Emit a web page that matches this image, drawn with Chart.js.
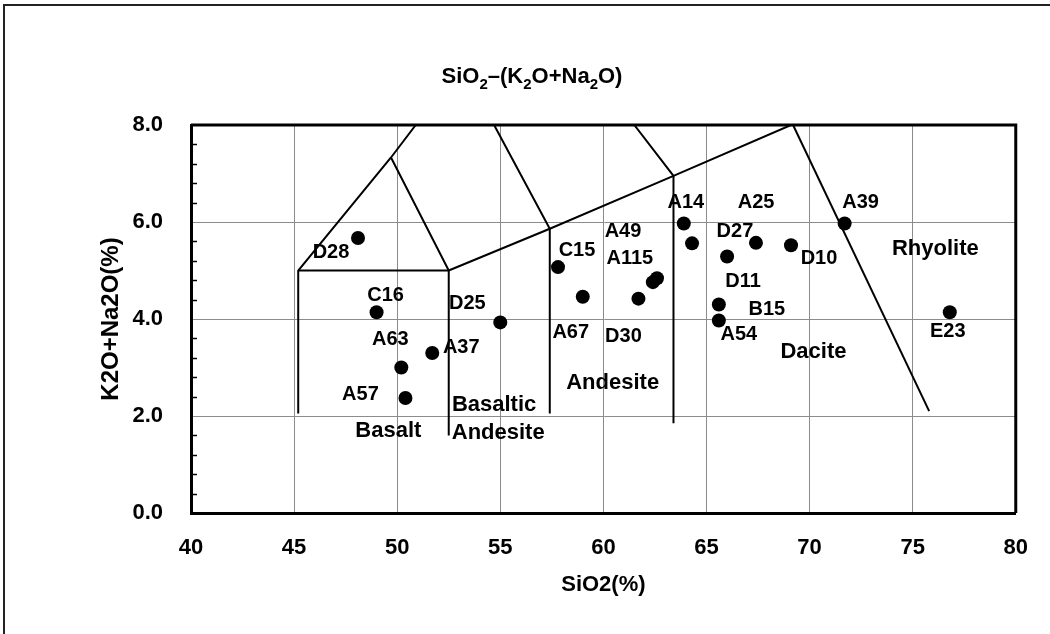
<!DOCTYPE html>
<html>
<head>
<meta charset="utf-8">
<script src="https://cdn.jsdelivr.net/npm/chart.js@4.4.1/dist/chart.umd.min.js"></script>
<style>
  html, body { margin: 0; padding: 0; background: #fff; }
  canvas { display: block; }
</style>
</head>
<body>
<canvas id="tas" width="1050" height="634"></canvas>
<script>
// samples: SiO2 vs total alkali
const sampleNames = ["D28", "C16", "A63", "A37", "A57", "D25", "C15", "A67", "D30", "A115",
                     "A49", "A14", "A25", "D27", "D11", "D10", "A39", "B15", "A54", "E23"];
const sio2 = [48.1, 49.0, 50.2, 51.7, 50.4, 55.0, 57.8, 59.0, 61.7, 62.4,
              62.6, 63.9, 64.3, 67.4, 66.0, 69.1, 71.7, 65.6, 65.6, 76.8];
const alkali = [5.67, 4.14, 3.0, 3.3, 2.37, 3.93, 5.07, 4.46, 4.42, 4.76,
                4.84, 5.97, 5.56, 5.57, 5.29, 5.52, 5.97, 4.30, 3.97, 4.14];

// field boundaries (TAS), one polyline each
const bndBasaltX = [45.2, 45.2, 49.7, 50.9];
const bndBasaltY = [2.05, 5.0, 7.33, 8.0];
const bndBasaltTopX = [45.2, 52.5];
const bndBasaltTopY = [5.0, 5.0];
const bndBasAndX = [49.7, 52.5, 52.5];
const bndBasAndY = [7.33, 5.0, 1.6];
const bndUpperX = [52.5, 57.4, 63.4, 69.1];
const bndUpperY = [5.0, 5.86, 6.95, 8.0];
const bndAndesiteX = [54.7, 57.4, 57.4];
const bndAndesiteY = [8.0, 5.86, 2.05];
const bndDaciteX = [61.5, 63.4, 63.4];
const bndDaciteY = [8.0, 6.95, 1.85];
const bndRhyoliteX = [69.2, 75.8];
const bndRhyoliteY = [8.0, 2.1];

// field names, anchored in data units
const fieldNames = ["Basalt", "Basaltic", "Andesite", "Andesite", "Dacite", "Rhyolite"];
const fieldSio2 = [49.57, 54.7, 54.9, 60.45, 70.19, 76.1];
const fieldAlkali = [1.69, 2.23, 1.66, 2.68, 3.32, 5.45];

const xTicksStep = 5;
const yTicksStep = 2;

// label offsets from each dot, px
const labelOffsets = [[-27, 14], [9, -17], [-11, -28], [29, -5], [-45, -4], [-33, -19], [19, -17],
                      [-12, 36], [-15, 38], [-23, -24], [-34, -47], [2, -21], [64, -41], [-21, -11],
                      [16, 25], [28, 13], [16, -21], [48, 5], [20, 14], [-2, 19]];

const FONT = "'Liberation Sans', Arial, sans-serif";

const toPoints = (xs, ys) => xs.map((x, i) => ({ x: x, y: ys[i] }));

const boundaries = [
    [bndBasaltX, bndBasaltY], [bndBasaltTopX, bndBasaltTopY], [bndBasAndX, bndBasAndY],
    [bndUpperX, bndUpperY], [bndAndesiteX, bndAndesiteY], [bndDaciteX, bndDaciteY],
    [bndRhyoliteX, bndRhyoliteY],
];

const boundaryDatasets = boundaries.map(([xs, ys]) => ({
    data: toPoints(xs, ys),
    showLine: true,
    borderColor: "#000",
    borderWidth: 2,
    pointRadius: 0,
    fill: false,
}));

const sampleDataset = {
    data: toPoints(sio2, alkali),
    backgroundColor: "#000",
    borderColor: "#000",
    pointRadius: 7,
    pointBorderWidth: 0,
};

const decor = {
    id: "decor",
    beforeDatasetsDraw(chart) {
        const { ctx, chartArea: a, scales } = chart;
        ctx.save();
        // top + right border of the plot
        ctx.strokeStyle = "#000";
        ctx.lineWidth = 3;
        ctx.beginPath();
        ctx.moveTo(a.left, a.top);
        ctx.lineTo(a.right, a.top);
        ctx.lineTo(a.right, a.bottom);
        ctx.stroke();
        // minor ticks on y axis, every 0.4
        ctx.lineWidth = 1.5;
        for (let i = 1; i < 20; i++) {
            if (i % 5 === 0) continue;
            const y = Math.round(scales.y.getPixelForValue(i * 0.4)) + 0.5;
            ctx.beginPath();
            ctx.moveTo(a.left, y);
            ctx.lineTo(a.left + 6, y);
            ctx.stroke();
        }
        ctx.restore();
    },
    afterDatasetsDraw(chart) {
        const { ctx, scales } = chart;
        ctx.save();
        ctx.fillStyle = "#000";
        ctx.textAlign = "center";
        ctx.textBaseline = "middle";
        ctx.font = "bold 20px " + FONT;
        sampleNames.forEach((name, i) => {
            const px = scales.x.getPixelForValue(sio2[i]);
            const py = scales.y.getPixelForValue(alkali[i]);
            ctx.fillText(name, px + labelOffsets[i][0], py + labelOffsets[i][1]);
        });
        ctx.font = "bold 22px " + FONT;
        fieldNames.forEach((name, i) => {
            ctx.fillText(name, scales.x.getPixelForValue(fieldSio2[i]),
                scales.y.getPixelForValue(fieldAlkali[i]));
        });
        ctx.restore();
    },
    afterDraw(chart) {
        const { ctx } = chart;
        ctx.save();
        // outer frame (top and left only)
        ctx.strokeStyle = "#222";
        ctx.lineWidth = 2;
        ctx.beginPath();
        ctx.moveTo(1050, 5);
        ctx.lineTo(4, 5);
        ctx.lineTo(4, 634);
        ctx.stroke();
        // title with subscripts
        const parts = [["SiO", 0], ["2", 1], ["\u2013(K", 0], ["2", 1], ["O+Na", 0], ["2", 1], ["O)", 0]];
        const big = "bold 22px " + FONT, small = "bold 15px " + FONT;
        let total = 0;
        parts.forEach(([t, sub]) => {
            ctx.font = sub ? small : big;
            total += ctx.measureText(t).width;
        });
        let x = 532 - total / 2;
        ctx.fillStyle = "#000";
        ctx.textBaseline = "alphabetic";
        ctx.textAlign = "left";
        parts.forEach(([t, sub]) => {
            ctx.font = sub ? small : big;
            ctx.fillText(t, x, sub ? 89 : 83);
            x += ctx.measureText(t).width;
        });
        ctx.restore();
    },
};

const ctx = document.getElementById("tas").getContext("2d");
const chart = new Chart(ctx, {
    type: "scatter",
    data: { datasets: [sampleDataset, ...boundaryDatasets] },
    options: {
        responsive: false,
        animation: false,
        devicePixelRatio: 1,
        layout: { padding: { top: 125, right: 25, left: 0, bottom: 0 } },
        plugins: {
            legend: { display: false },
            tooltip: { enabled: false },
            title: { display: false },
        },
        scales: {
            x: {
                type: "linear",
                min: 40,
                max: 80,
                ticks: { stepSize: xTicksStep, padding: 22, color: "#000", font: { family: FONT, size: 22, weight: "bold" } },
                grid: { color: "#8c8c8c", lineWidth: 1, drawTicks: false },
                border: { color: "#000", width: 3 },
                title: {
                    display: true,
                    text: "SiO2(%)",
                    color: "#000",
                    font: { family: FONT, size: 22, weight: "bold" },
                    padding: { top: 0, bottom: 36 },
                },
                afterFit: (s) => { s.height = 121; },
            },
            y: {
                type: "linear",
                min: 0,
                max: 8,
                ticks: {
                    stepSize: yTicksStep,
                    padding: 28,
                    color: "#000",
                    font: { family: FONT, size: 22, weight: "bold" },
                    callback: (v) => v.toFixed(1),
                },
                grid: { color: "#8c8c8c", lineWidth: 1, drawTicks: false },
                border: { color: "#000", width: 3 },
                title: {
                    display: true,
                    text: "K2O+Na2O(%)",
                    color: "#000",
                    font: { family: FONT, size: 24, weight: "bold" },
                    padding: { top: 97, bottom: 0 },
                },
                afterFit: (s) => { s.width = 191; },
            },
        },
    },
    plugins: [decor],
});
</script>
</body>
</html>
